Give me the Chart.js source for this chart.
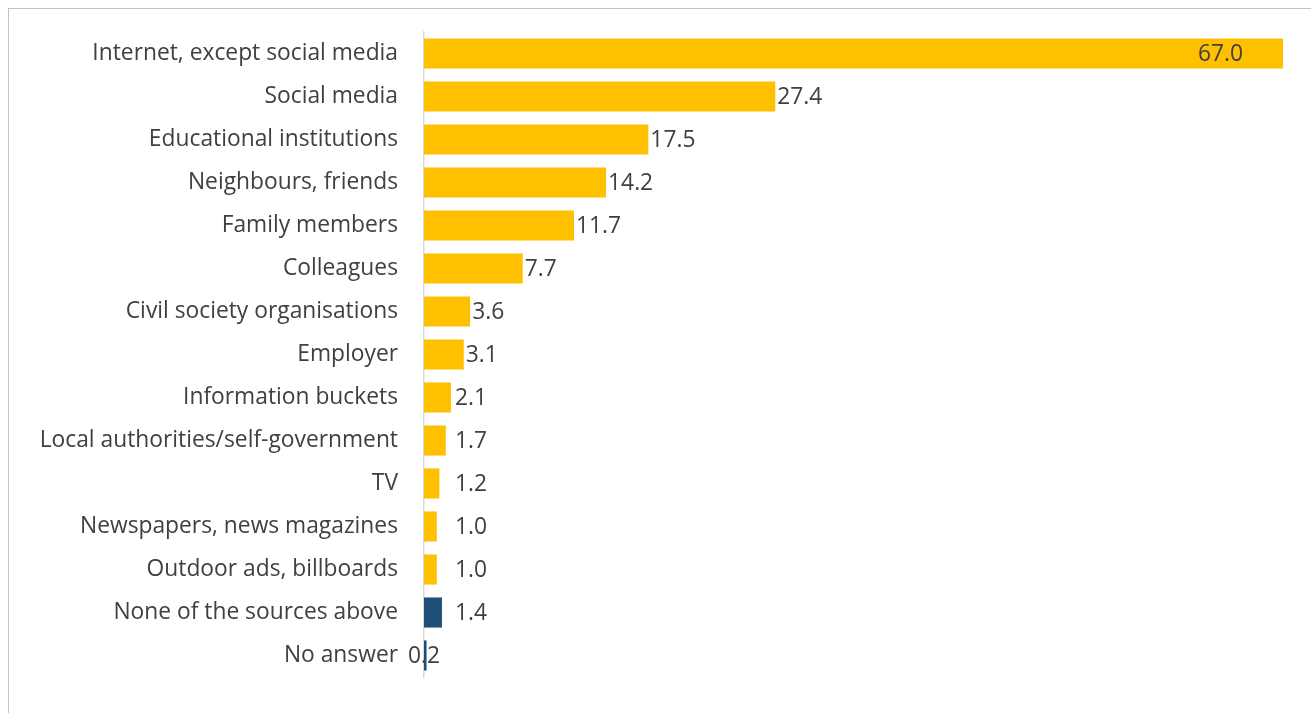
<!DOCTYPE html>
<html><head><meta charset="utf-8">
<script src="https://cdn.jsdelivr.net/npm/chart.js@4/dist/chart.umd.min.js"></script>
<style>
html,body{margin:0;padding:0;background:#fff;overflow:hidden;}
#wrap{position:relative;width:1311px;height:713px;}
#frame{position:absolute;left:8px;top:8px;width:1400px;height:800px;border:1px solid #c4c4c4;box-sizing:border-box;}
canvas{position:absolute;left:0;top:0;}
</style></head>
<body>
<div id="wrap"><div id="frame"></div><canvas id="c" width="1311" height="713"></canvas></div>
<script>
const categories = ["Internet, except social media","Social media","Educational institutions","Neighbours, friends","Family members","Colleagues","Civil society organisations","Employer","Information buckets","Local authorities/self-government","TV","Newspapers, news magazines","Outdoor ads, billboards","None of the sources above","No answer"];
const values = [67.0,27.4,17.5,14.2,11.7,7.7,3.6,3.1,2.1,1.7,1.2,1.0,1.0,1.4,0.2];
const highlighted = [false,false,false,false,false,false,false,false,false,false,false,false,false,true,true];

const YELLOW = '#FFC000', BLUE = '#1F4E79', TXT = '#404040';
const FONT = '"Open Sans", Lato, sans-serif';

const labelPlugin = {
  id: 'valueLabels',
  afterDatasetsDraw(chart) {
    const ctx = chart.ctx;
    const meta = chart.getDatasetMeta(0);
    const xs = chart.scales.x;
    const x0 = xs.getPixelForValue(0);
    ctx.save();
    ctx.font = '22.8px ' + FONT;
    ctx.fillStyle = TXT;
    ctx.textBaseline = 'middle';
    meta.data.forEach((bar, i) => {
      const v = values[i];
      const txt = v.toFixed(1);
      const end = bar.x;
      const y = bar.y + 1;
      if (v > 50) {
        ctx.textAlign = 'right';
        ctx.fillText(txt, end - 40, y);
      } else if (v < 0.5) {
        ctx.textAlign = 'center';
        ctx.fillText(txt, x0, y);
      } else {
        ctx.textAlign = 'left';
        ctx.fillText(txt, Math.max(end + 2, x0 + 31), y);
      }
    });
    ctx.restore();
  }
};

new Chart(document.getElementById('c'), {
  type: 'bar',
  data: {
    labels: categories,
    datasets: [{
      data: values,
      backgroundColor: highlighted.map(h => h ? BLUE : YELLOW),
      borderWidth: 0,
      barPercentage: 0.7,
      categoryPercentage: 1.0
    }]
  },
  options: {
    indexAxis: 'y',
    responsive: false,
    animation: false,
    devicePixelRatio: 1,
    layout: { padding: { left: 0, right: 28, top: 32, bottom: 36 } },
    plugins: { legend: { display: false }, tooltip: { enabled: false } },
    scales: {
      x: { display: false, min: 0, max: 67 },
      y: {
        afterFit(scale) { scale.width = 424; scale.paddingTop = 0; scale.paddingBottom = 0; },
        grid: { display: false, drawTicks: false },
        border: { display: true, color: '#d9d9d9', width: 1.5 },
        ticks: { color: TXT, padding: 26, font: { family: FONT, size: 22.8 } }
      }
    }
  },
  plugins: [labelPlugin]
});
</script>
</body></html>
